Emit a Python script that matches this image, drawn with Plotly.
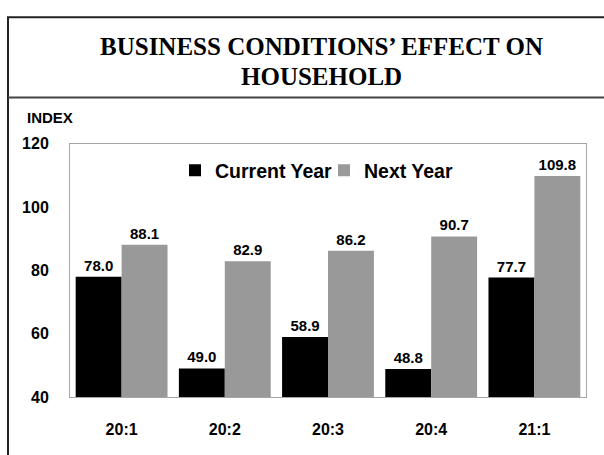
import plotly.graph_objects as go

categories = ["20:1", "20:2", "20:3", "20:4", "21:1"]
current_year = [78.0, 49.0, 58.9, 48.8, 77.7]
next_year = [88.1, 82.9, 86.2, 90.7, 109.8]
y_ticks = [40, 60, 80, 100, 120]

W, H = 604, 455
SANS = "Liberation Sans"

def px_x(p):
    return p / W

def px_y(p):
    return 1 - p / H

fig = go.Figure()
fig.add_trace(go.Bar(
    x=categories, y=current_year, name="Current Year",
    marker=dict(color="#000000", line=dict(width=0)),
    text=[f"{v:.1f}" for v in current_year], textposition="outside",
    textfont=dict(family=SANS, size=15, color="#000", weight="bold"),
    cliponaxis=False,
))
fig.add_trace(go.Bar(
    x=categories, y=next_year, name="Next Year",
    marker=dict(color="#999999", line=dict(width=0)),
    text=[f"{v:.1f}" for v in next_year], textposition="outside",
    textfont=dict(family=SANS, size=15, color="#000", weight="bold"),
    cliponaxis=False,
))

fig.update_layout(
    width=W, height=H,
    margin=dict(l=0, r=0, t=0, b=0),
    paper_bgcolor="white", plot_bgcolor="white",
    barmode="group", bargap=0.11, bargroupgap=0,
    showlegend=True,
    legend=dict(
        orientation="h", x=px_x(175), y=px_y(169), xanchor="left", yanchor="middle",
        font=dict(family=SANS, size=19.5, color="#000", weight="bold"),
        bgcolor="rgba(0,0,0,0)", itemclick=False, traceorder="normal",
        entrywidth=104,
    ),
    xaxis=dict(
        domain=[px_x(70), px_x(586)],
        showline=True, linecolor="#a6a6a6", linewidth=1, mirror=True,
        ticks="", showgrid=False,
        tickfont=dict(family=SANS, size=16, color="#000", weight="bold"),
        ticklabelstandoff=18,
    ),
    yaxis=dict(
        domain=[px_y(404), px_y(141)],
        range=[40, 120], tickvals=y_ticks,
        showline=True, linecolor="#a6a6a6", linewidth=1, mirror=True,
        ticks="", showgrid=False, zeroline=False,
        tickfont=dict(family=SANS, size=16, color="#000", weight="bold"),
        ticklabelstandoff=17,
    ),
    shapes=[
        dict(type="rect", xref="paper", yref="paper",
             x0=px_x(8), x1=px_x(640), y0=px_y(500), y1=px_y(9.5),
             line=dict(color="#222", width=2), fillcolor="rgba(0,0,0,0)"),
        dict(type="line", xref="paper", yref="paper",
             x0=px_x(8), x1=px_x(640), y0=px_y(93), y1=px_y(93),
             line=dict(color="#444", width=2)),
    ],
    annotations=[
        dict(text="BUSINESS CONDITIONS’ EFFECT ON",
             xref="paper", yref="paper", x=px_x(321), y=px_y(40.5),
             xanchor="center", yanchor="middle", showarrow=False,
             font=dict(family="Liberation Serif", size=25, color="#000", weight="bold")),
        dict(text="HOUSEHOLD",
             xref="paper", yref="paper", x=px_x(321), y=px_y(71),
             xanchor="center", yanchor="middle", showarrow=False,
             font=dict(family="Liberation Serif", size=25, color="#000", weight="bold")),
        dict(text="INDEX", xref="paper", yref="paper", x=px_x(25), y=px_y(114),
             xanchor="left", yanchor="middle", showarrow=False,
             font=dict(family=SANS, size=15, color="#000", weight="bold")),
    ],
)

fig.write_html(
    "out.html",
    config={"displayModeBar": False, "responsive": False},
    post_script=(
        "document.documentElement.style.cssText='margin:0;padding:0;height:455px;overflow:hidden;';"
        "document.body.style.cssText='margin:0;padding:0;height:455px;overflow:hidden;';"
        "var gd=document.querySelector('.plotly-graph-div');"
        "if(gd&&gd.parentElement){gd.parentElement.style.cssText='margin:0;padding:0;height:455px;overflow:hidden;';}"
    ),
)
